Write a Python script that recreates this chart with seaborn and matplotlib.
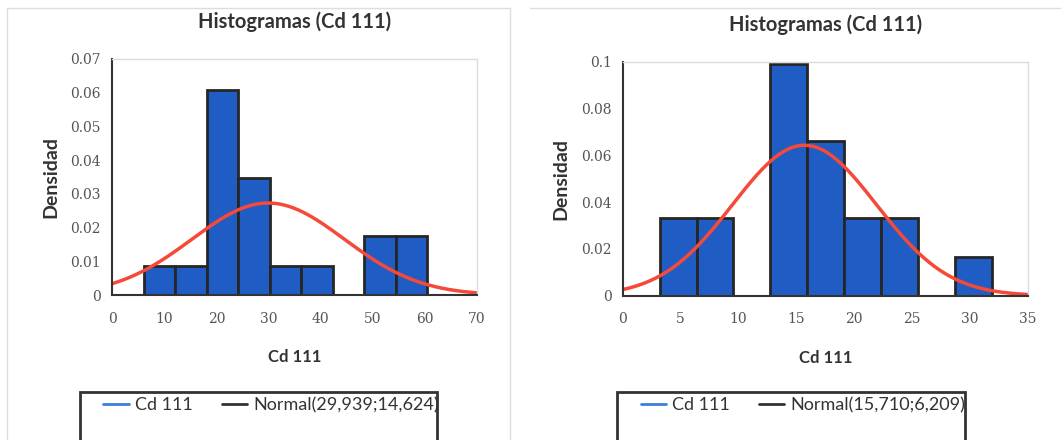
import numpy as np
import pandas as pd
import matplotlib
matplotlib.use("Agg")
import matplotlib.pyplot as plt
import seaborn as sns
from matplotlib.lines import Line2D
from matplotlib.patches import Rectangle

sns.set_style("white")
plt.rcParams['font.family'] = ['Lato', 'DejaVu Sans']

# left panel: bins and counts (n = 19)
left_edges = [0, 6.05, 12.1, 18.15, 24.2, 30.25, 36.3, 42.35, 48.4, 54.45, 60.5]
left_counts = [0, 1, 1, 7, 4, 1, 1, 0, 2, 2]
left_mu, left_sd = 29.939, 14.624
left_legend = "Normal(29,939;14,624)"

# right panel: bins and counts (n = 19)
right_edges = [0, 3.19, 6.38, 9.57, 12.76, 15.95, 19.14, 22.33, 25.52, 28.71, 31.9]
right_counts = [0, 2, 2, 0, 6, 4, 2, 2, 0, 1]
right_mu, right_sd = 15.710, 6.209
right_legend = "Normal(15,710;6,209)"

title = "Histogramas (Cd 111)"
xlabel = "Cd 111"
ylabel = "Densidad"

bar_color = "#1f5dc4"
curve_color = "#f5493a"

fig = plt.figure(figsize=(10.61, 4.4), dpi=100)


def panel(ax, edges, counts, mu, sd, xmax, xticks, ymax, yticks, yfmt):
    arr = np.array(edges)
    centers = (arr[:-1] + arr[1:]) / 2
    df = pd.DataFrame({"x": centers, "w": counts})
    sns.histplot(data=df, x="x", weights="w", bins=list(edges), stat="density",
                 color=bar_color, alpha=1, edgecolor="#262626", linewidth=2,
                 ax=ax)
    xs = np.linspace(0, xmax, 300)
    pdf = np.exp(-0.5 * ((xs - mu) / sd) ** 2) / (sd * np.sqrt(2 * np.pi))
    sns.lineplot(x=xs, y=pdf, color=curve_color, linewidth=2.5, ax=ax)
    ax.set_xlim(0, xmax)
    ax.set_ylim(0, ymax)
    ax.set_xticks(xticks)
    ax.set_yticks(yticks)
    ax.set_yticklabels([yfmt(v) for v in yticks])
    for lab in ax.get_xticklabels() + ax.get_yticklabels():
        lab.set_family("DejaVu Serif")
        lab.set_fontsize(10)
        lab.set_color("#555555")
    ax.tick_params(axis="y", direction="inout", length=10, width=1.3, color="#333333", pad=3)
    ax.tick_params(axis="x", direction="out", length=6, width=1.3, color="#333333", pad=6)
    for s in ["left", "bottom"]:
        ax.spines[s].set_color("#333333")
        ax.spines[s].set_linewidth(1.5)
    for s in ["top", "right"]:
        ax.spines[s].set_color("#d5dde5")
        ax.spines[s].set_linewidth(1)
    ax.set_title(title, fontsize=14.5, fontweight="bold", color="#333333", pad=22)
    ax.set_xlabel(xlabel, fontsize=12, fontweight="bold", color="#333333", labelpad=17)
    ax.set_ylabel(ylabel, fontsize=14, fontweight="bold", color="#333333", labelpad=8)


def fmt_left(v):
    return "0" if v == 0 else f"{v:.2f}"


def fmt_right(v):
    if v == 0:
        return "0"
    s = f"{v:.2f}"
    return "0.1" if s == "0.10" else s


ax1 = fig.add_axes([0.1056, 0.3295, 0.3440, 0.5365])
panel(ax1, left_edges, left_counts, left_mu, left_sd, 70,
      [0, 10, 20, 30, 40, 50, 60, 70], 0.07,
      [0, 0.01, 0.02, 0.03, 0.04, 0.05, 0.06, 0.07], fmt_left)

ax2 = fig.add_axes([0.5869, 0.328, 0.3817, 0.532])
panel(ax2, right_edges, right_counts, right_mu, right_sd, 35,
      [0, 5, 10, 15, 20, 25, 30, 35], 0.1,
      [0, 0.02, 0.04, 0.06, 0.08, 0.1], fmt_right)

# panel borders
fig.patches.append(Rectangle((7 / 1061, -0.1), 503 / 1061, 1.1 - 8 / 440,
                             transform=fig.transFigure, fill=False,
                             edgecolor="#dddddd", linewidth=1))
fig.add_artist(Line2D([530 / 1061, 1.0], [1 - 8 / 440] * 2, transform=fig.transFigure,
                      color="#dddddd", linewidth=1))

# legend boxes
for (x0, x1), cx, lbl in [((80, 437), 271, left_legend), ((617, 965), 803, right_legend)]:
    fig.patches.append(Rectangle((x0 / 1061, -0.1), (x1 - x0) / 1061, 0.1 + 1 - 392 / 440,
                                 transform=fig.transFigure, fill=False,
                                 edgecolor="#333333", linewidth=2))
    handles = [Line2D([], [], color="#3b7fd9", linewidth=2),
               Line2D([], [], color="#333333", linewidth=2)]
    fig.legend(handles, [xlabel, lbl], loc="center",
               bbox_to_anchor=(cx / 1061, 1 - 405 / 440),
               ncol=2, frameon=False, fontsize=13, handlelength=1.4,
               handletextpad=0.35, columnspacing=1.6, labelcolor="#333333")

fig.savefig("out.png", dpi=100)
